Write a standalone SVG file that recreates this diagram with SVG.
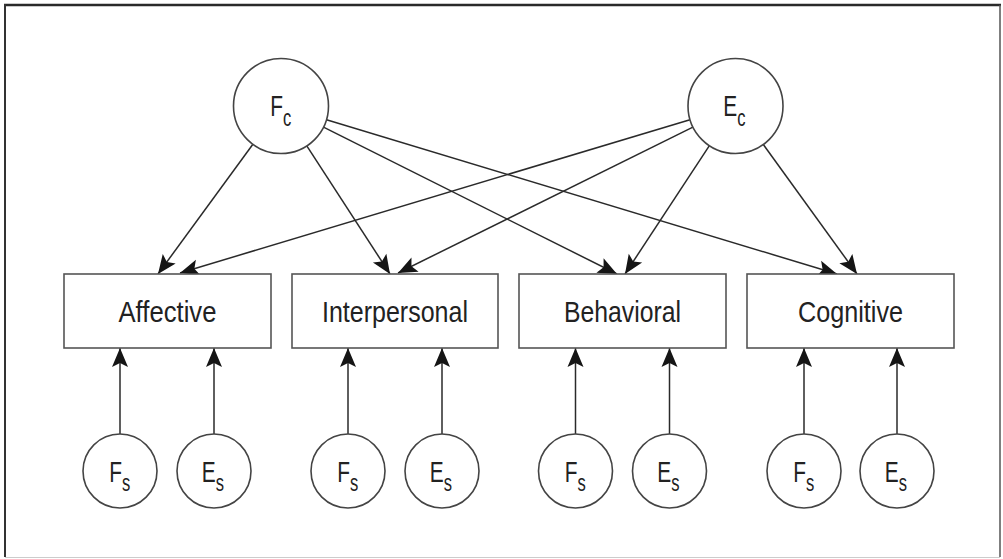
<svg xmlns="http://www.w3.org/2000/svg" width="1003" height="559" viewBox="0 0 1003 559">
<style>
.node circle{fill:#fff;stroke:#444;stroke-width:1.6}
.node rect{fill:#fff;stroke:#555;stroke-width:1.6}
.lbl{font-family:"Liberation Sans Narrow","Liberation Sans",Arial,sans-serif;font-size:29px;fill:#222}
.sub{font-size:23px}
#connectors line{stroke:#2a2a2a;stroke-width:1.5;marker-end:url(#ah)}
</style>
<defs>
<marker id="ah" markerUnits="userSpaceOnUse" orient="auto" refX="0" refY="0" markerWidth="22" markerHeight="22" viewBox="-21 -10 22 20" overflow="visible">
<path d="M0,0 L-19,-8 L-15,0 L-19,8 Z" fill="#151515"/>
</marker>
</defs>
<rect x="0" y="0" width="1003" height="559" fill="#fff"/>
<g id="frame">
<line x1="4" y1="5" x2="1001" y2="5" stroke="#2a2a2a" stroke-width="2.5"/>
<line x1="5" y1="4" x2="5" y2="557" stroke="#333" stroke-width="2"/>
<line x1="1000" y1="5" x2="1000" y2="557" stroke="#555" stroke-width="1.5"/>
<line x1="5" y1="557.5" x2="1000" y2="557.5" stroke="#ccc" stroke-width="1"/>
</g>
<g id="connectors">
<line x1="252.9" y1="144.3" x2="158" y2="274"/>
<line x1="306.8" y1="145.9" x2="390" y2="274"/>
<line x1="323.5" y1="127.2" x2="617" y2="274"/>
<line x1="326.5" y1="119.7" x2="837" y2="274"/>
<line x1="690" y1="119.7" x2="180" y2="273"/>
<line x1="692.9" y1="127.1" x2="398" y2="273"/>
<line x1="709.4" y1="145.7" x2="625" y2="274"/>
<line x1="763.3" y1="144.5" x2="857" y2="274"/>
<line x1="120" y1="434" x2="120" y2="348"/>
<line x1="214" y1="434" x2="214" y2="348"/>
<line x1="348" y1="434" x2="348" y2="348"/>
<line x1="442" y1="434" x2="442" y2="348"/>
<line x1="575.5" y1="434" x2="575.5" y2="348"/>
<line x1="669.5" y1="434" x2="669.5" y2="348"/>
<line x1="804" y1="434" x2="804" y2="348"/>
<line x1="897" y1="434" x2="897" y2="348"/>
</g>
<g id="Fc" class="node">
<circle cx="281" cy="106" r="47.5"/>
<g transform="translate(281,106) scale(0.72,1)"><text class="lbl" x="-15" y="10">F<tspan class="sub" dy="10">c</tspan></text></g>
</g>
<g id="Ec" class="node">
<circle cx="735.5" cy="106" r="47.5"/>
<g transform="translate(735.5,106) scale(0.72,1)"><text class="lbl" x="-17" y="10">E<tspan class="sub" dy="10">c</tspan></text></g>
</g>
<g id="Affective" class="node">
<rect x="64" y="274" width="207" height="74"/>
<text class="lbl" x="167.5" y="322" text-anchor="middle" textLength="98" lengthAdjust="spacingAndGlyphs">Affective</text>
</g>
<g id="Interpersonal" class="node">
<rect x="292" y="274" width="206" height="74"/>
<text class="lbl" x="395" y="322" text-anchor="middle" textLength="146" lengthAdjust="spacingAndGlyphs">Interpersonal</text>
</g>
<g id="Behavioral" class="node">
<rect x="519" y="274" width="207" height="74"/>
<text class="lbl" x="622.5" y="322" text-anchor="middle" textLength="117" lengthAdjust="spacingAndGlyphs">Behavioral</text>
</g>
<g id="Cognitive" class="node">
<rect x="747" y="274" width="207" height="74"/>
<text class="lbl" x="850.5" y="322" text-anchor="middle" textLength="105" lengthAdjust="spacingAndGlyphs">Cognitive</text>
</g>
<g id="Fs1" class="node"><circle cx="120" cy="471" r="37"/><g transform="translate(120,471) scale(0.72,1)"><text class="lbl" x="-15" y="10.5">F<tspan class="sub" dy="9">s</tspan></text></g></g>
<g id="Es1" class="node"><circle cx="214" cy="471" r="37"/><g transform="translate(214,471) scale(0.72,1)"><text class="lbl" x="-17" y="10.5">E<tspan class="sub" dy="9">s</tspan></text></g></g>
<g id="Fs2" class="node"><circle cx="348" cy="471" r="37"/><g transform="translate(348,471) scale(0.72,1)"><text class="lbl" x="-15" y="10.5">F<tspan class="sub" dy="9">s</tspan></text></g></g>
<g id="Es2" class="node"><circle cx="442" cy="471" r="37"/><g transform="translate(442,471) scale(0.72,1)"><text class="lbl" x="-17" y="10.5">E<tspan class="sub" dy="9">s</tspan></text></g></g>
<g id="Fs3" class="node"><circle cx="575.5" cy="471" r="37"/><g transform="translate(575.5,471) scale(0.72,1)"><text class="lbl" x="-15" y="10.5">F<tspan class="sub" dy="9">s</tspan></text></g></g>
<g id="Es3" class="node"><circle cx="669.5" cy="471" r="37"/><g transform="translate(669.5,471) scale(0.72,1)"><text class="lbl" x="-17" y="10.5">E<tspan class="sub" dy="9">s</tspan></text></g></g>
<g id="Fs4" class="node"><circle cx="804" cy="471" r="37"/><g transform="translate(804,471) scale(0.72,1)"><text class="lbl" x="-15" y="10.5">F<tspan class="sub" dy="9">s</tspan></text></g></g>
<g id="Es4" class="node"><circle cx="897" cy="471" r="37"/><g transform="translate(897,471) scale(0.72,1)"><text class="lbl" x="-17" y="10.5">E<tspan class="sub" dy="9">s</tspan></text></g></g>
</svg>
